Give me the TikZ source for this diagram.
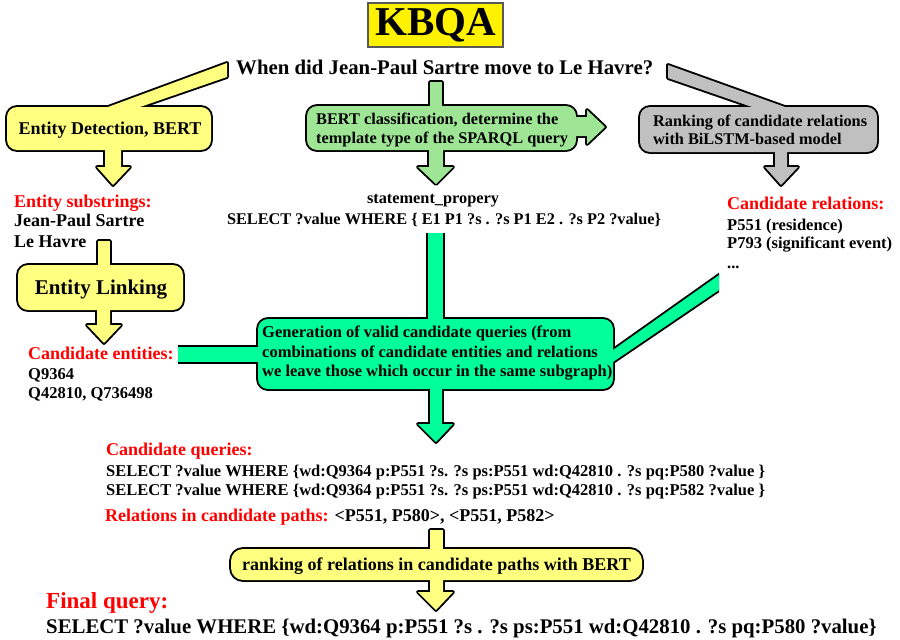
\documentclass[tikz,border=0pt]{standalone}
\usepackage{fontspec}
\setmainfont{Liberation Serif}
\definecolor{cyel}{RGB}{255,255,128}
\definecolor{cgreen}{RGB}{158,230,150}
\definecolor{cgray}{RGB}{192,192,192}
\definecolor{cteal}{RGB}{0,255,153}
\newcommand\fs[1]{\fontsize{#1}{#1}\selectfont\bfseries}
\begin{document}
\begin{tikzpicture}[x=1pt,y=-1pt,
  txt/.style={inner sep=0pt, anchor=base west},
  ctxt/.style={inner sep=0pt, anchor=base},
  red/.style={text=red},
  outl/.style={line width=3.8pt,line join=round}]
\useasboundingbox (0,0) rectangle (900,640);
% title
\node[draw=black!65, fill=yellow, line width=1.5pt, minimum width=135pt, minimum height=44pt, inner sep=0pt] (title) at (435.5,25) {\fs{41}KBQA};
\node[txt] (question) at (236,74) {\fs{20.8}When did Jean-Paul Sartre move to Le Havre?};

% Entity detection callout
\draw[outl] [rounded corners=10pt] (7,107) rectangle (211,150) [sharp corners]
  (108,113) -- (108,107) -- (227,63) -- (227,77) -- (140,107) -- (140,113) -- cycle
  (105,145) -- (105,167) -- (97,167) -- (113,185) -- (130,167) -- (121,167) -- (121,145) -- cycle;
\fill[cyel] [rounded corners=10pt] (7,107) rectangle (211,150);
\fill[cyel] (108,113) -- (108,107) -- (227,63) -- (227,77) -- (140,107) -- (140,113) -- cycle;
\fill[cyel] (105,145) -- (105,167) -- (97,167) -- (113,185) -- (130,167) -- (121,167) -- (121,145) -- cycle;
\node[ctxt] (ed) at (110,134) {\fs{18}Entity Detection, BERT};

% BERT classification callout
\draw[outl] [rounded corners=10pt] (307,106) rectangle (576,150) [sharp corners]
  (430,112) -- (430,82) -- (442,82) -- (442,112) -- cycle
  (429,145) -- (429,167) -- (418,167) -- (436,184) -- (453,167) -- (443,167) -- (443,145) -- cycle
  (570,117) -- (587,117) -- (587,110) -- (605,127) -- (587,144) -- (587,136) -- (570,136) -- cycle;
\fill[cgreen] [rounded corners=10pt] (307,106) rectangle (576,150);
\fill[cgreen] (430,112) -- (430,82) -- (442,82) -- (442,112) -- cycle;
\fill[cgreen] (429,145) -- (429,167) -- (418,167) -- (436,184) -- (453,167) -- (443,167) -- (443,145) -- cycle;
\fill[cgreen] (570,117) -- (587,117) -- (587,110) -- (605,127) -- (587,144) -- (587,136) -- (570,136) -- cycle;
\node[txt] (bc1) at (316,124) {\fs{16.3}BERT classification, determine the};
\node[txt] (bc2) at (316,143) {\fs{16.3}template type of the SPARQL query};

% Ranking BiLSTM callout
\draw[outl] [rounded corners=10pt] (640,107) rectangle (877,152) [sharp corners]
  (752,113) -- (752,107) -- (668,78) -- (668,65) -- (785,107) -- (785,113) -- cycle
  (775,147) -- (775,167) -- (765,167) -- (781,185) -- (798,167) -- (787,167) -- (787,147) -- cycle;
\fill[cgray] [rounded corners=10pt] (640,107) rectangle (877,152);
\fill[cgray] (752,113) -- (752,107) -- (668,78) -- (668,65) -- (785,107) -- (785,113) -- cycle;
\fill[cgray] (775,147) -- (775,167) -- (765,167) -- (781,185) -- (798,167) -- (787,167) -- (787,147) -- cycle;
\node[txt] (rk1) at (653,126) {\fs{16.3}Ranking of candidate relations};
\node[txt] (rk2) at (653,144) {\fs{16.3}with BiLSTM-based model};

% Entity substrings
\node[txt,red] (es) at (14,207) {\fs{18}Entity substrings:};
\node[txt] (es1) at (14,226) {\fs{18}Jean-Paul Sartre};
\node[txt] (es2) at (14,247) {\fs{18}Le Havre};

% template
\node[ctxt] (tp1) at (433,203) {\fs{16.3}statement\_propery};
\node[ctxt] (tp2) at (444,224) {\fs{16.3}SELECT ?value WHERE \{ E1 P1 ?s . ?s P1 E2 . ?s P2 ?value\}};

% Candidate relations
\node[txt,red] (cr) at (727,209) {\fs{18}Candidate relations:};
\node[txt] (cr1) at (727,230) {\fs{16.5}P551 (residence)};
\node[txt] (cr2) at (727,248) {\fs{16.5}P793 (significant event)};
\node[txt] (cr3) at (727,268) {\fs{16.5}...};

% Entity linking callout
\draw[outl] [rounded corners=10pt] (18,265) rectangle (183,310) [sharp corners]
  (98,271) -- (98,241) -- (110,241) -- (110,271) -- cycle
  (97,304) -- (97,325) -- (87,325) -- (104,343) -- (121,325) -- (110,325) -- (110,304) -- cycle;
\fill[cyel] [rounded corners=10pt] (18,265) rectangle (183,310);
\fill[cyel] (98,271) -- (98,241) -- (110,241) -- (110,271) -- cycle;
\fill[cyel] (97,304) -- (97,325) -- (87,325) -- (104,343) -- (121,325) -- (110,325) -- (110,304) -- cycle;
\node[ctxt] (el) at (101,294) {\fs{21}Entity Linking};

% Candidate entities
\node[txt,red] (ce) at (28,359) {\fs{18}Candidate entities:};
\node[txt] (ce1) at (28,379) {\fs{16.5}Q9364};
\node[txt] (ce2) at (28,398) {\fs{16.5}Q42810, Q736498};

% Generation callout (teal)
\begin{scope}
\clip (0,0) rectangle (719,640);
\draw[line width=3.8pt] (428,233) -- (428,325) (443,233) -- (443,325)
  (178,347) -- (265,347) (178,362) -- (265,362)
  (603,357.1) -- (725,270.8) (603,368.8) -- (725,285.9);
\draw[outl] [rounded corners=10pt] (258,319) rectangle (613,389) [sharp corners]
  (430,384) -- (430,424) -- (418,424) -- (436,442) -- (453,424) -- (442,424) -- (442,384) -- cycle;
\fill[cteal] [rounded corners=10pt] (258,319) rectangle (613,389);
\fill[cteal] (430,384) -- (430,424) -- (418,424) -- (436,442) -- (453,424) -- (442,424) -- (442,384) -- cycle;
\fill[cteal] (428,233) rectangle (443,325);
\fill[cteal] (178,347) rectangle (265,362);
\fill[cteal] (603,357.1) -- (725,270.8) -- (725,285.9) -- (603,368.8) -- cycle;
\end{scope}
\node[txt] (g1) at (262,337) {\fs{16.5}Generation of valid candidate queries (from};
\node[txt] (g2) at (262,357) {\fs{16.5}combinations of candidate entities and relations};
\node[txt] (g3) at (262,376) {\fs{16.5}we leave those which occur in the same subgraph)};

% Candidate queries
\node[txt,red] (cq) at (106,455) {\fs{18}Candidate queries:};
\node[txt] (cq1) at (106,476) {\fs{16.5}SELECT ?value WHERE \{wd:Q9364 p:P551 ?s. ?s ps:P551 wd:Q42810 . ?s pq:P580 ?value \}};
\node[txt] (cq2) at (106,495) {\fs{16.5}SELECT ?value WHERE \{wd:Q9364 p:P551 ?s. ?s ps:P551 wd:Q42810 . ?s pq:P582 ?value \}};
\node[txt] (rel) at (105,521) {\fs{18}\textcolor{red}{Relations in candidate paths:} <P551, P580>, <P551, P582>};

% Ranking with BERT callout
\draw[outl] [rounded corners=12pt] (231,549) rectangle (642,580) [sharp corners]
  (430,554) -- (430,530) -- (443,530) -- (443,554) -- cycle
  (430,575) -- (430,592) -- (418,592) -- (436,610) -- (453,592) -- (443,592) -- (443,575) -- cycle;
\fill[cyel] [rounded corners=12pt] (231,549) rectangle (642,580);
\fill[cyel] (430,554) -- (430,530) -- (443,530) -- (443,554) -- cycle;
\fill[cyel] (430,575) -- (430,592) -- (418,592) -- (436,610) -- (453,592) -- (443,592) -- (443,575) -- cycle;
\node[ctxt] (rb) at (436.5,570) {\fs{18}ranking of relations in candidate paths with BERT};

% Final query
\node[txt,red] (fq) at (46,608) {\fs{23}Final query:};
\node[txt] (fq1) at (46,633) {\fs{20.8}SELECT ?value WHERE \{wd:Q9364 p:P551 ?s . ?s ps:P551 wd:Q42810 . ?s pq:P580 ?value\}};
\end{tikzpicture}
\end{document}
